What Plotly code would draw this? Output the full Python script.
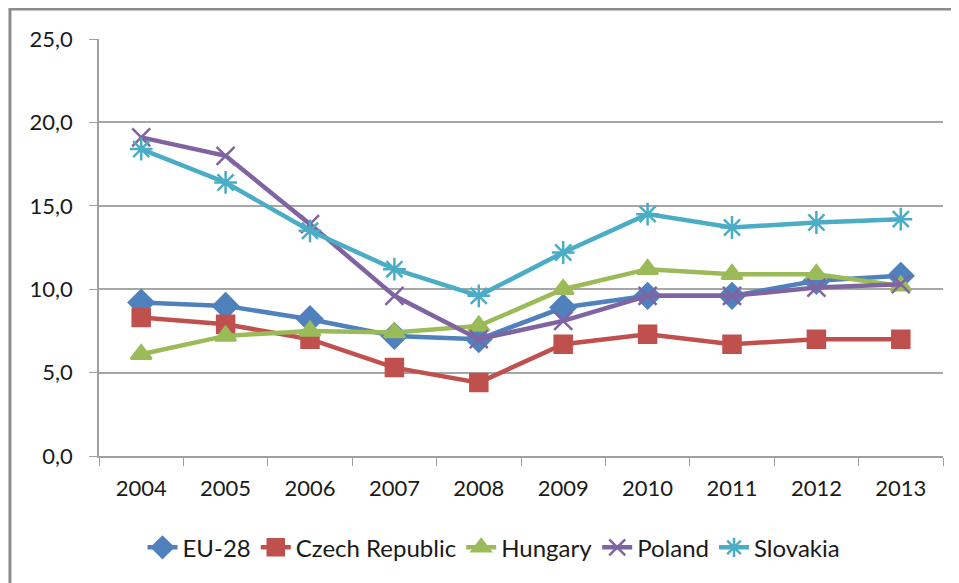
import plotly.graph_objects as go

years = ["2004", "2005", "2006", "2007", "2008", "2009", "2010", "2011", "2012", "2013"]
eu28 = [9.2, 9.0, 8.2, 7.2, 7.0, 8.9, 9.6, 9.6, 10.5, 10.8]
czech = [8.3, 7.9, 7.0, 5.3, 4.4, 6.7, 7.3, 6.7, 7.0, 7.0]
hungary = [6.1, 7.2, 7.5, 7.4, 7.8, 10.0, 11.2, 10.9, 10.9, 10.2]
poland = [19.1, 18.0, 13.9, 9.6, 7.0, 8.1, 9.6, 9.6, 10.1, 10.3]
slovakia = [18.4, 16.4, 13.5, 11.2, 9.6, 12.2, 14.5, 13.7, 14.0, 14.2]

series = [
    ("EU-28", eu28, "#4F81BD", "diamond", 19),
    ("Czech Republic", czech, "#C0504D", "square", 17),
    ("Hungary", hungary, "#9BBB59", "triangle-up", 18),
    ("Poland", poland, "#8064A2", "x-thin-open", 18),
    ("Slovakia", slovakia, "#4BACC6", "asterisk-open", 19),
]

fig = go.Figure()
for name, vals, color, sym, size in series:
    fig.add_trace(go.Scatter(
        x=years, y=vals, name=name, mode="lines+markers",
        line=dict(color=color, width=4.5),
        marker=dict(symbol=sym, size=size, color=color,
                    line=dict(color=color, width=2.5)),
    ))

font_family = "Lato, Open Sans, sans-serif"
fig.update_layout(
    width=951, height=575,
    margin=dict(l=91, r=16, t=31, b=127),
    paper_bgcolor="white", plot_bgcolor="white",
    separators=", ",
    font=dict(family=font_family, size=22, color="#1a1a1a"),
    showlegend=True,
    legend=dict(orientation="h", x=0.468, xanchor="center", y=-0.22, yanchor="middle",
                font=dict(size=24), itemwidth=30, tracegroupgap=0, bgcolor="rgba(0,0,0,0)"),
    xaxis=dict(type="category", range=[-0.5, 9.5], autorange=False, showgrid=False, showline=True,
               linecolor="#A0A0A0", linewidth=1.5,
               ticks="outside", tickson="boundaries", ticklen=8, tickcolor="#A0A0A0",
               tickfont=dict(size=22), ticklabelstandoff=12),
    yaxis=dict(range=[0, 25], dtick=5, tickformat=".1f", showgrid=True, gridcolor="#A6A6A6", gridwidth=1.5,
               showline=True, linecolor="#A0A0A0", linewidth=1.5, ticks="outside", ticklen=8,
               tickcolor="#A0A0A0", zeroline=False, tickfont=dict(size=22), ticklabelstandoff=12),
    shapes=[dict(type="rect", xref="paper", yref="paper",
                 x0=-0.1055, x1=1.2, y0=-0.5, y1=1.072,
                 line=dict(color="#8C8C8C", width=3), fillcolor="rgba(0,0,0,0)", layer="below")],
)

fig.write_html("out.html")
